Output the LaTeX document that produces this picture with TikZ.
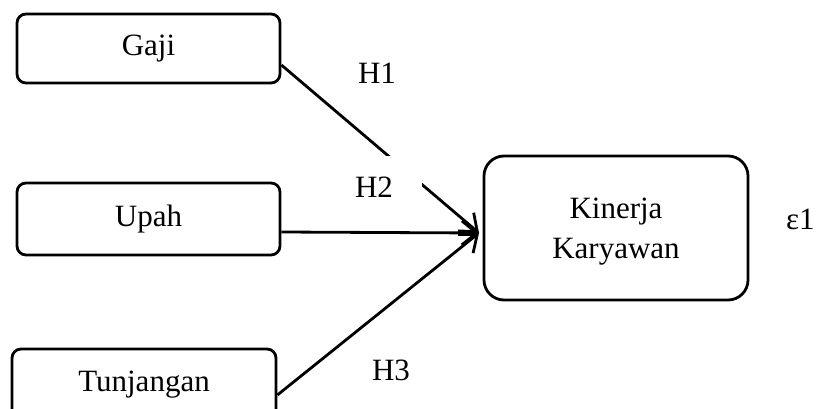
\documentclass[tikz,border=0pt]{standalone}
\usepackage{fontspec}
\setmainfont{Liberation Serif}
\usetikzlibrary{arrows.meta}
\begin{document}
\begin{tikzpicture}[x=1pt,y=-1pt,
  rbox/.style={draw, line width=2.8pt, rounded corners=9pt, inner sep=0pt,
    font=\fontsize{31}{40}\selectfont, text height=21pt, text depth=7pt},
  bigbox/.style={draw, line width=2.8pt, rounded corners=20pt, inner sep=0pt,
    font=\fontsize{31}{40}\selectfont, align=center},
  conn/.style={line width=2.8pt, -{Straight Barb[length=15pt,width=24pt]}},
  lbl/.style={font=\fontsize{31}{40}\selectfont, inner sep=0pt}]
\clip (0,0) rectangle (816,409);
\node[rbox, minimum width=263pt, minimum height=69pt] (gaji) at (148.5,48.5) {Gaji};
\node[rbox, minimum width=263pt, minimum height=72pt] (upah) at (148.5,219) {Upah};
\node[rbox, minimum width=264pt, minimum height=70pt] (tunj) at (144,384) {Tunjangan};
\node[bigbox, minimum width=264pt, minimum height=144pt] (kin) at (616,228) {\strut Kinerja\\Karyawan};
\coordinate (tip) at (479,233);
\draw[conn] ([yshift=-16.5pt]gaji.east) -- (tip);
\draw[conn] ([yshift=-13pt]upah.east) -- (tip);
\draw[conn] ([yshift=-11pt]tunj.east) -- (tip);
\node[lbl] (h1) at (377,73) {H1};
\node[lbl, fill=white, minimum width=96pt, minimum height=62pt] (h2) at (374,187) {H2};
\node[lbl] (h3) at (391,370) {H3};
\node[lbl, anchor=base west] (eps) at (786,229) {ε1};
\end{tikzpicture}
\end{document}
